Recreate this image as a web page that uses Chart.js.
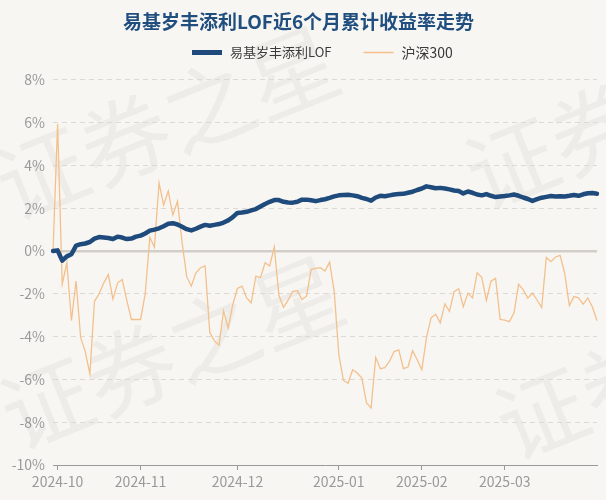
<!DOCTYPE html>
<html lang="zh">
<head>
    <meta charset="UTF-8">
    <title>易基岁丰添利LOF近6个月累计收益率走势</title>
    <script src="https://cdn.jsdelivr.net/npm/chart.js@4.4.1/dist/chart.umd.min.js"></script>
    <style>
        html, body {
            margin: 0;
            padding: 0;
            background: #f8f6f3;
        }
        #wrap {
            width: 606px;
            height: 500px;
        }
    </style>
</head>
<body>
    <div id="wrap">
        <canvas id="returnChart" width="606" height="500"></canvas>
    </div>

    <script>
        // trading days, grouped by month
        const months = ['2024-09', '2024-10', '2024-11', '2024-12', '2025-01', '2025-02', '2025-03'];
        const tradingDays = [
            [30],
            [8, 9, 10, 11, 14, 15, 16, 17, 18, 21, 22, 23, 24, 25, 28, 29, 30, 31],
            [1, 4, 5, 6, 7, 8, 11, 12, 13, 14, 15, 18, 19, 20, 21, 22, 25, 26, 27, 28, 29],
            [2, 3, 4, 5, 6, 9, 10, 11, 12, 13, 16, 17, 18, 19, 20, 23, 24, 25, 26, 27, 30, 31],
            [2, 3, 6, 7, 8, 9, 10, 13, 14, 15, 16, 17, 20, 21, 22, 23, 24, 27],
            [5, 6, 7, 10, 11, 12, 13, 14, 17, 18, 19, 20, 21, 24, 25, 26, 27, 28],
            [3, 4, 5, 6, 7, 10, 11, 12, 13, 14, 17, 18, 19, 20, 21, 24, 25, 26, 27, 28, 31]
        ];

        // cumulative return, %
        const fundReturns = [
            0, 0.03, -0.45, -0.25, -0.15, 0.25, 0.32, 0.35, 0.42, 0.58,
            0.65, 0.63, 0.61, 0.56, 0.67, 0.63, 0.56, 0.58, 0.67, 0.72,
            0.82, 0.95, 1.0, 1.06, 1.16, 1.27, 1.3, 1.24, 1.13, 1.02,
            0.96, 1.04, 1.14, 1.22, 1.18, 1.22, 1.26, 1.33, 1.43, 1.58,
            1.78, 1.8, 1.83, 1.9, 1.96, 2.08, 2.2, 2.3, 2.38, 2.38,
            2.3, 2.27, 2.26, 2.3, 2.4, 2.4, 2.37, 2.33, 2.38, 2.42,
            2.48, 2.55, 2.6, 2.62, 2.63, 2.6, 2.56, 2.48, 2.43, 2.35,
            2.5, 2.58, 2.56, 2.6, 2.64, 2.66, 2.67, 2.72, 2.77, 2.85,
            2.92, 3.02, 2.98, 2.93, 2.95, 2.92, 2.88, 2.83, 2.8, 2.69,
            2.78, 2.72, 2.64, 2.6, 2.66, 2.58, 2.52, 2.55, 2.57, 2.6,
            2.64, 2.58, 2.5, 2.43, 2.34, 2.42, 2.49, 2.53, 2.57, 2.55,
            2.56, 2.55, 2.58, 2.62, 2.58, 2.65, 2.7, 2.71, 2.68
        ];
        const hs300Returns = [
            0, 5.93, -1.55, -0.55, -3.25, -1.4, -4.05, -4.7, -5.75, -2.35,
            -2.0, -1.5, -1.1, -2.25, -1.5, -1.33, -2.3, -3.2, -3.2, -3.2,
            -2.0, 0.63, 0.18, 3.18, 2.15, 2.8, 1.68, 2.32, 0.4, -1.2,
            -1.64, -1.02, -0.78, -0.7, -3.8, -4.2, -4.4, -2.8, -3.6, -2.5,
            -1.75, -1.64, -2.19, -2.42, -1.17, -1.25, -0.55, -0.7, 0.19, -2.07,
            -2.63, -2.3, -1.88, -1.85, -2.27, -2.11, -0.86, -0.81, -0.78, -0.94,
            -0.52, -1.9, -4.85, -6.05, -6.18, -5.55, -5.7, -5.94, -7.1, -7.34,
            -4.97, -5.5, -5.45, -5.15, -4.7, -4.62, -5.5, -5.42, -4.66, -5.08,
            -5.55, -4.06, -3.12, -2.95, -3.36, -2.47, -2.82, -1.9, -1.76, -2.6,
            -1.97, -2.19, -1.02, -1.23, -2.31, -1.41, -1.28, -3.2, -3.23, -3.3,
            -2.89, -1.56, -1.82, -2.2, -1.97, -2.29, -2.64, -0.3, -0.5, -0.28,
            -0.2, -1.05, -2.55, -2.13, -2.19, -2.48, -2.19, -2.62, -3.26
        ];

        const yMin = -10;
        const yMax = 8;
        const yStep = 2;

        const seriesNames = ['易基岁丰添利LOF', '沪深300'];
        const seriesColors = ['#1f4b7c', '#f3c08c'];

        const FONT = '"Noto Sans CJK SC", "Noto Sans", sans-serif';

        // labels like 2024-10-08, and the index of each month's first trading day
        const labels = [];
        const monthTickIdx = [];
        months.forEach((m, k) => {
            tradingDays[k].forEach((d, j) => {
                if (j === 0 && k > 0) monthTickIdx.push(labels.length);
                labels.push(m + '-' + String(d).padStart(2, '0'));
            });
        });

        // faint background + watermark
        const backdrop = {
            id: 'backdrop',
            beforeDraw(chart) {
                const ctx = chart.ctx;
                ctx.save();
                ctx.fillStyle = '#f8f6f3';
                ctx.fillRect(0, 0, chart.width, chart.height);
                ctx.fillStyle = 'rgba(120, 110, 100, 0.07)';
                ctx.font = '90px ' + FONT;
                ctx.textBaseline = 'middle';
                [[0, 190], [5, 420], [470, 180], [500, 430]].forEach(([x, y]) => {
                    ctx.save();
                    ctx.translate(x, y);
                    ctx.rotate(-22 * Math.PI / 180);
                    ctx.fillText('证券之星', 0, 0);
                    ctx.restore();
                });
                ctx.restore();
            }
        };

        // legend drawn under the title
        const lineLegend = {
            id: 'lineLegend',
            afterDraw(chart) {
                const ctx = chart.ctx;
                const y = 52.5;
                let x = 192;
                ctx.save();
                ctx.textBaseline = 'middle';
                chart.data.datasets.forEach((ds, i) => {
                    ctx.beginPath();
                    ctx.strokeStyle = ds.borderColor;
                    ctx.lineWidth = i === 0 ? 5 : 1.5;
                    ctx.moveTo(x, y);
                    ctx.lineTo(x + 30, y);
                    ctx.stroke();
                    ctx.font = (i === 0 ? 13 : 14) + 'px ' + FONT;
                    ctx.fillStyle = '#3a3a3a';
                    ctx.fillText(ds.label, x + 38, y);
                    x += 38 + ctx.measureText(ds.label).width + 32;
                });
                ctx.restore();
            }
        };

        const ctx = document.getElementById('returnChart').getContext('2d');
        new Chart(ctx, {
            type: 'line',
            data: {
                labels: labels,
                datasets: [
                    {
                        label: seriesNames[0],
                        data: fundReturns,
                        borderColor: seriesColors[0],
                        borderWidth: 4.5,
                        borderJoinStyle: 'round',
                        borderCapStyle: 'round',
                        pointRadius: 0,
                        tension: 0
                    },
                    {
                        label: seriesNames[1],
                        data: hs300Returns,
                        borderColor: seriesColors[1],
                        borderWidth: 1.3,
                        pointRadius: 0,
                        tension: 0
                    }
                ]
            },
            options: {
                responsive: false,
                animation: false,
                layout: {
                    padding: { left: 0, right: 9, top: 0, bottom: 0 }
                },
                plugins: {
                    legend: { display: false },
                    tooltip: { enabled: false },
                    title: {
                        display: true,
                        text: '易基岁丰添利LOF近6个月累计收益率走势',
                        color: '#1f4e7f',
                        font: { family: FONT, size: 19, weight: 'bold' },
                        padding: { top: 10, bottom: 47 }
                    }
                },
                scales: {
                    x: {
                        ticks: {
                            autoSkip: false,
                            maxRotation: 0,
                            padding: 3,
                            color: '#999',
                            font: { family: FONT, size: 14 },
                            callback: function (value) {
                                return this.getLabelForValue(value).slice(0, 7);
                            }
                        },
                        afterBuildTicks: (scale) => {
                            scale.ticks = scale.ticks.filter(t => monthTickIdx.includes(t.value));
                        },
                        afterFit: (scale) => { scale.height = 35; },
                        grid: {
                            drawOnChartArea: false,
                            drawTicks: true,
                            tickLength: 5,
                            color: '#999'
                        },
                        border: { display: true, color: '#999', width: 1 }
                    },
                    y: {
                        min: yMin,
                        max: yMax,
                        ticks: {
                            stepSize: yStep,
                            padding: 8,
                            color: '#999',
                            font: { family: FONT, size: 14 },
                            callback: (v) => v + '%'
                        },
                        afterFit: (scale) => { scale.width = 53; },
                        grid: {
                            drawTicks: false,
                            color: (c) => {
                                if (!c.tick) return '#dddad6';
                                if (c.tick.value === 0) return '#d2cfca';
                                if (c.tick.value === yMin) return 'rgba(0,0,0,0)';
                                return '#dddad6';
                            },
                            lineWidth: (c) => (c.tick && c.tick.value === 0 ? 2.5 : 1)
                        },
                        border: {
                            display: false,
                            dash: (c) => (c.tick && c.tick.value === 0 ? [] : [5, 4])
                        }
                    }
                }
            },
            plugins: [backdrop, lineLegend]
        });
    </script>
</body>
</html>
